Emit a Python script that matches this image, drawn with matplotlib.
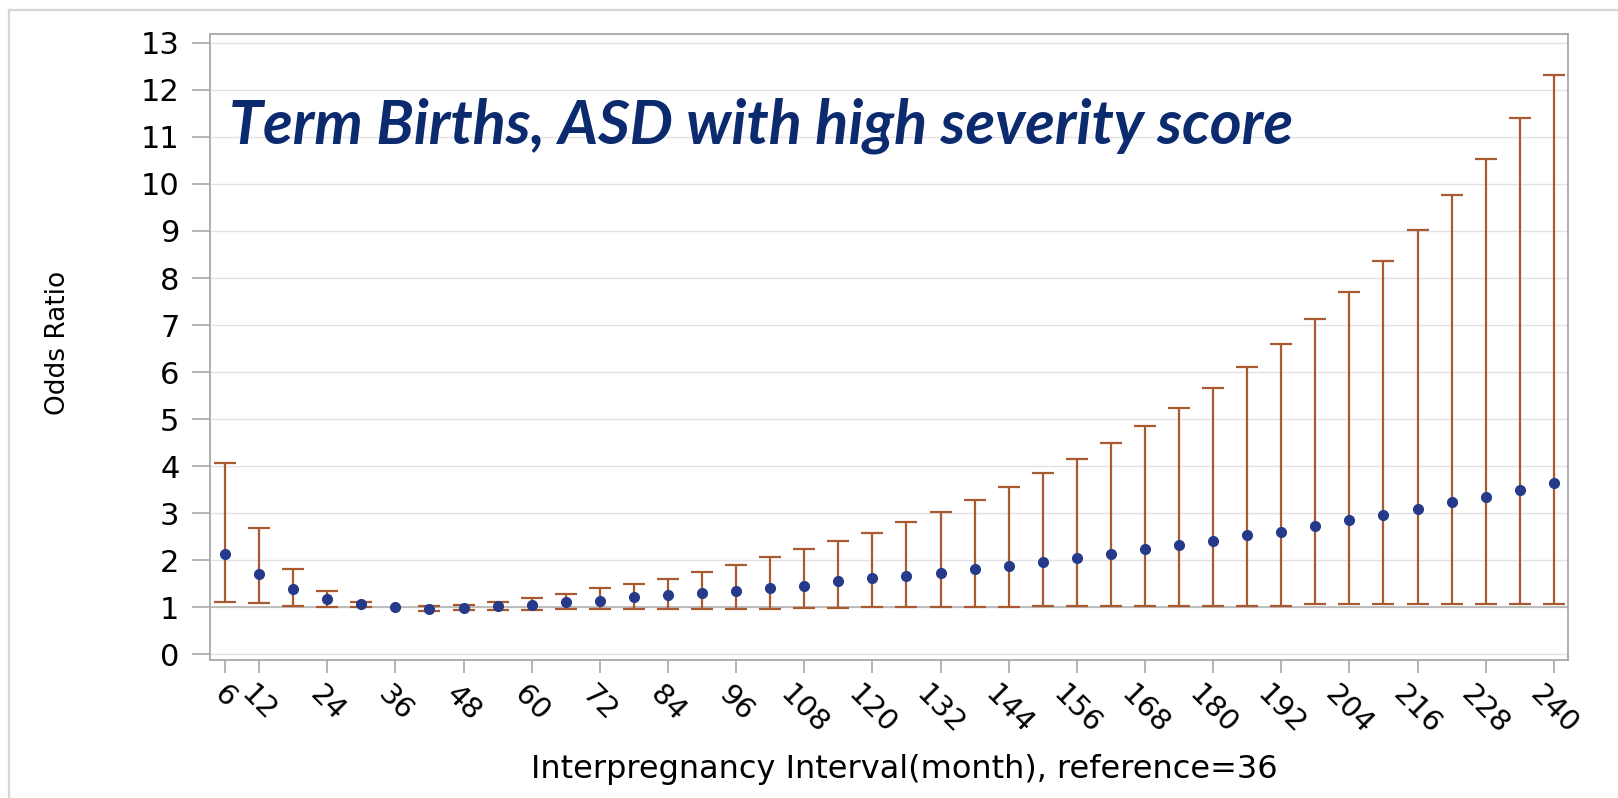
import matplotlib
matplotlib.use('Agg')
import matplotlib.pyplot as plt
import numpy as np
from matplotlib.lines import Line2D

# interpregnancy interval (months) and odds ratio with 95% CI, reference = 36
months = [6, 12, 18, 24, 30, 36, 42, 48, 54, 60,
          66, 72, 78, 84, 90, 96, 102, 108, 114, 120,
          126, 132, 138, 144, 150, 156, 162, 168, 174, 180,
          186, 192, 198, 204, 210, 216, 222, 228, 234, 240]
odds = [2.14, 1.70, 1.38, 1.17, 1.065, 1.00, 0.96, 0.99, 1.03, 1.06,
        1.11, 1.14, 1.21, 1.26, 1.31, 1.35, 1.41, 1.46, 1.56, 1.62,
        1.67, 1.73, 1.82, 1.88, 1.97, 2.05, 2.14, 2.23, 2.32, 2.41,
        2.53, 2.61, 2.73, 2.85, 2.97, 3.09, 3.23, 3.35, 3.50, 3.64]
ci_low = [1.115, 1.095, 1.03, 1.00, 1.00, np.nan, 0.93, 0.94, 0.94, 0.94,
          0.96, 0.96, 0.96, 0.96, 0.96, 0.96, 0.96, 0.99, 0.99, 1.00,
          1.00, 1.00, 1.00, 1.00, 1.03, 1.03, 1.03, 1.03, 1.03, 1.03,
          1.03, 1.03, 1.065, 1.065, 1.065, 1.065, 1.065, 1.065, 1.065, 1.065]
ci_high = [4.06, 2.68, 1.82, 1.35, 1.11, np.nan, 1.02, 1.06, 1.11, 1.20,
           1.29, 1.41, 1.50, 1.61, 1.76, 1.91, 2.06, 2.23, 2.41, 2.58,
           2.82, 3.02, 3.29, 3.56, 3.86, 4.15, 4.50, 4.86, 5.23, 5.66,
           6.11, 6.60, 7.12, 7.71, 8.36, 9.03, 9.77, 10.53, 11.41, 12.32]
xtick_vals = [6, 12, 24, 36, 48, 60, 72, 84, 96, 108, 120, 132, 144,
              156, 168, 180, 192, 204, 216, 228, 240]
ytick_vals = list(range(0, 14))

bar_color = '#a95a30'
dot_color = '#253a8a'
title_color = '#0c2b6e'
frame_gray = '#a8a8a8'

x = np.array(months, dtype=float)
est = np.array(odds)
lo = np.array(ci_low)
hi = np.array(ci_high)
ok = ~np.isnan(lo)

fig = plt.figure(figsize=(16.18, 7.98), dpi=100)
ax = fig.add_axes([0.1298, 0.1729, 0.8393, 0.7841])

ax.set_xlim(3.36, 242.5)
ax.set_ylim(-0.12, 13.18)

for y in ytick_vals:
    ax.axhline(y, color='#e2e2e2', lw=1.0, zorder=0)
ax.axhline(1, color='#b4b4b4', lw=1.2, zorder=1)

ax.errorbar(x[ok], est[ok], yerr=[est[ok] - lo[ok], hi[ok] - est[ok]],
            fmt='none', ecolor=bar_color, elinewidth=1.6, capsize=8,
            capthick=1.6, zorder=2)
ax.plot(x, est, 'o', ms=7, color=dot_color, mec=dot_color, zorder=3)

for s in ax.spines.values():
    s.set_color(frame_gray)
    s.set_linewidth(1.3)

ax.set_xticks(xtick_vals)
ax.set_xticklabels([str(v) for v in xtick_vals], rotation=-45,
                   ha='center', va='top', fontsize=21, family='DejaVu Sans')
ax.set_yticks(ytick_vals)
ax.set_yticklabels([str(v) for v in ytick_vals], fontsize=22,
                   family='DejaVu Sans')
ax.tick_params(axis='x', direction='out', length=9, width=1.2,
               color=frame_gray, pad=6)
ax.tick_params(axis='y', direction='out', length=13, width=1.2,
               color=frame_gray, pad=9)

fig.text(0.036, 0.57, 'Odds Ratio', rotation=90, ha='center', va='center',
         fontsize=19, family='DejaVu Sans')
fig.text(0.559, 0.036, 'Interpregnancy Interval(month), reference=36',
         ha='center', va='center', fontsize=23, family='DejaVu Sans')

fig.text(0.1415, 0.8208, 'Term Births, ASD with high severity score',
         ha='left', va='baseline', fontsize=44, fontweight='bold',
         fontstyle='italic', family=['Lato', 'DejaVu Sans'],
         color=title_color)

# light slide border along top and left
fig.add_artist(Line2D([0.0056, 1.0], [0.988, 0.988], color='#d6d6d6', lw=1.6))
fig.add_artist(Line2D([0.0056, 0.0056], [0.0, 0.988], color='#d6d6d6', lw=1.6))

fig.savefig('out.png', dpi=100)
